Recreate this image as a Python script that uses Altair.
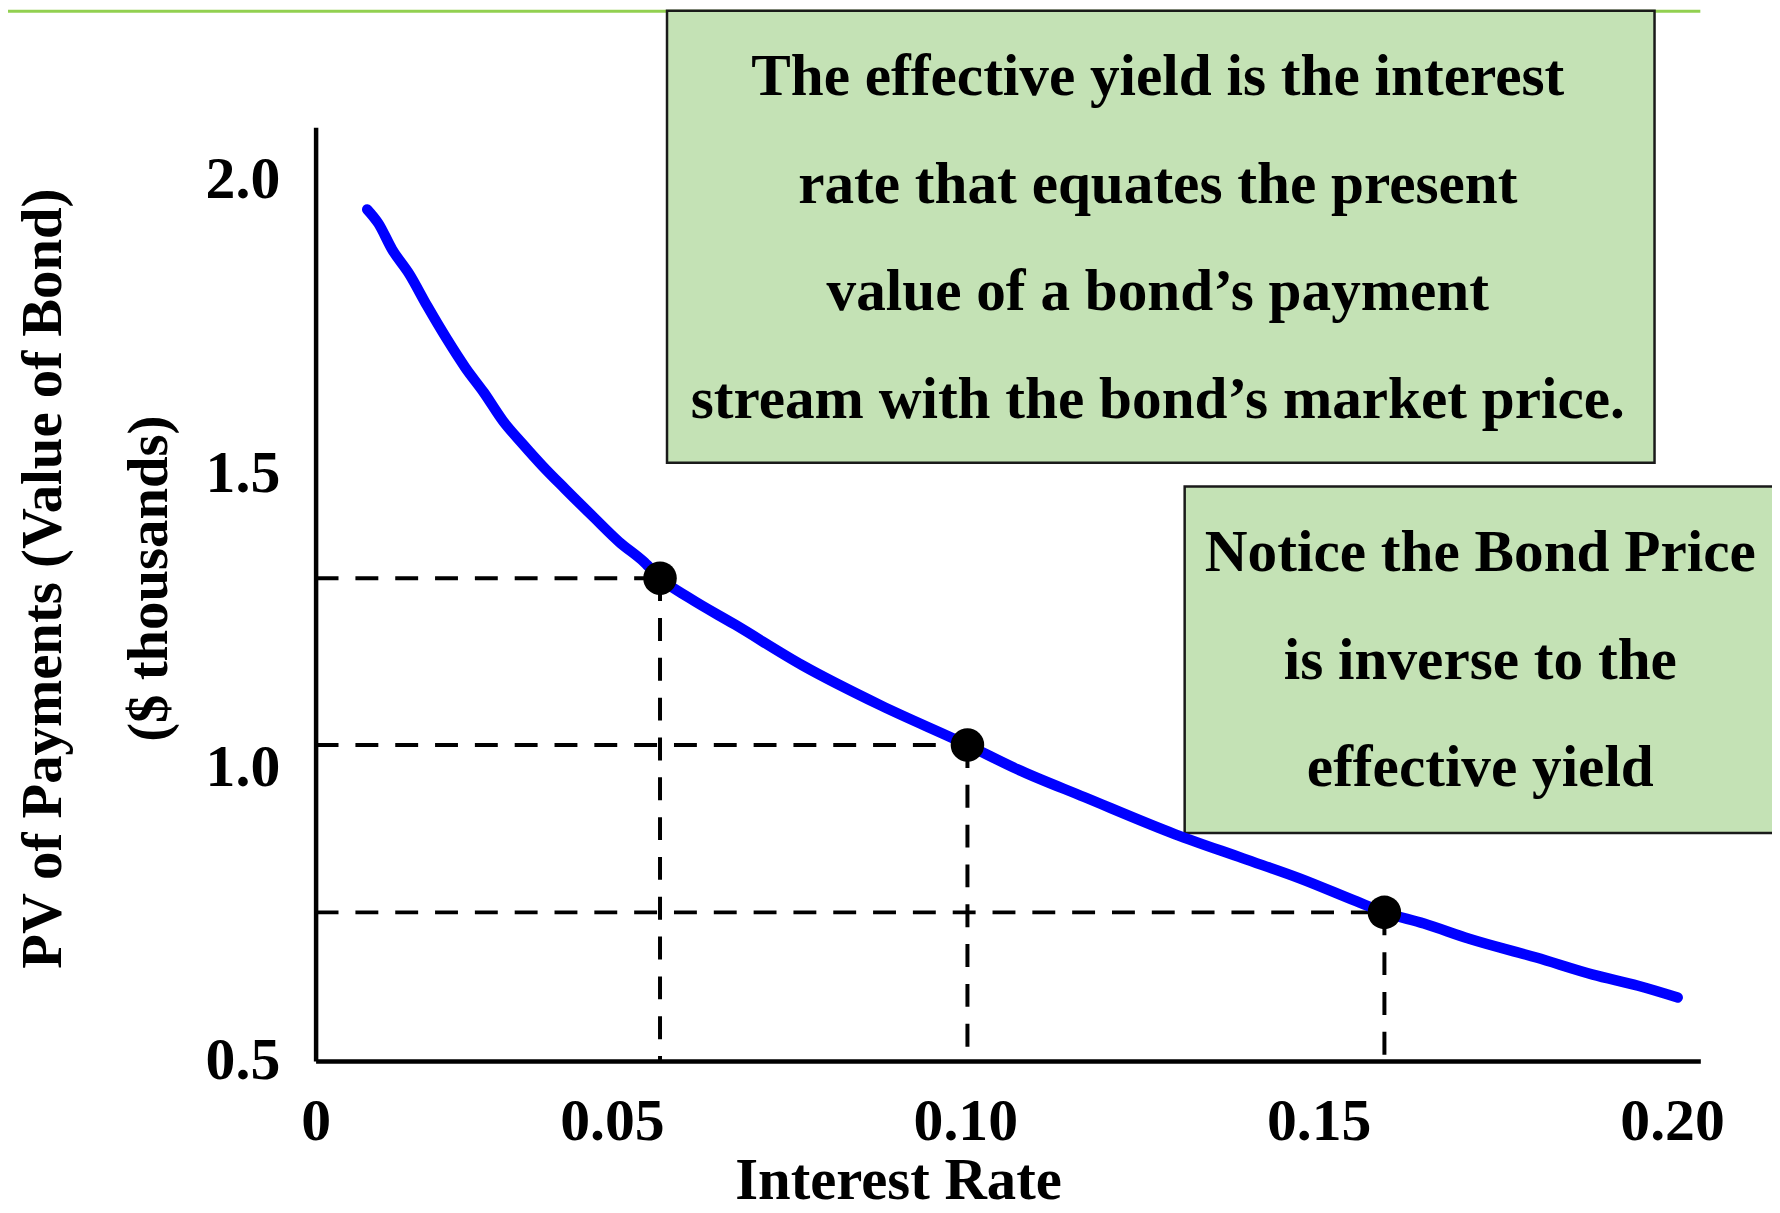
import altair as alt
import pandas as pd

# ---- data ----
rate = [0.0087, 0.0106, 0.0129, 0.0158, 0.0188, 0.0221, 0.0253, 0.0284, 0.0316, 0.0349,
        0.0383, 0.0421, 0.0469, 0.0510, 0.0546, 0.0568, 0.0610, 0.0674, 0.0769, 0.0881,
        0.1003, 0.1073, 0.1169, 0.1297, 0.1393, 0.1473, 0.1553, 0.1593, 0.1649, 0.1713,
        0.1808, 0.1888, 0.1952, 0.2008]
pv = [1.950, 1.926, 1.882, 1.840, 1.786, 1.730, 1.680, 1.638, 1.590, 1.551,
      1.513, 1.474, 1.426, 1.384, 1.349, 1.322, 1.288, 1.243, 1.174, 1.105,
      1.038, 0.997, 0.949, 0.886, 0.845, 0.811, 0.772, 0.753, 0.734, 0.708,
      0.676, 0.647, 0.628, 0.608]

dot_rate = [0.0568, 0.1003, 0.1593]
dot_pv = [1.322, 1.038, 0.753]

x_ticks = [0, 0.05, 0.10, 0.15, 0.20]
y_ticks = [0.5, 1.0, 1.5, 2.0]

x_title = "Interest Rate"
y_title = ["PV of Payments (Value of Bond)", "($ thousands)"]

top_lines = ["The effective yield is the interest",
             "rate that equates the present",
             "value of a bond\u2019s payment",
             "stream with the bond\u2019s market price."]
right_lines = ["Notice the Bond Price",
               "is inverse to the",
               "effective yield"]

X_MIN, Y_MIN = 0.0, 0.5

curve = pd.DataFrame({"rate": rate, "pv": pv})
dots = pd.DataFrame({"rate": dot_rate, "pv": dot_pv})
dots["rate0"] = X_MIN
dots["pv0"] = Y_MIN
one = pd.DataFrame({"k": [0]})

FONT = "Liberation Serif"
GREEN = "#c4e2b5"

xscale = alt.Scale(domain=[0, 0.05, 0.204], range=[0, 297.7, 1391], nice=False, zero=False)
yscale = alt.Scale(domain=[0.5, 2.09], nice=False, zero=False)

xaxis = alt.Axis(values=x_ticks, title=x_title, grid=False, ticks=False, tickSize=0,
                 labelExpr="datum.value == 0 ? '0' : format(datum.value, '.2f')",
                 labelFont=FONT, labelFontWeight="bold", labelFontSize=60, labelColor="black",
                 labelPadding=79, labelBaseline="alphabetic", labelFlush=False, labelOverlap=False,
                 domainColor="black", domainWidth=4.5,
                 titleFont=FONT, titleFontWeight="bold", titleFontSize=59, titleColor="black",
                 titleX=585, titleY=138, titleAlign="center", titleBaseline="alphabetic")
yaxis = alt.Axis(values=y_ticks, title=y_title, grid=False, ticks=False, tickSize=0, format=".1f",
                 labelFont=FONT, labelFontWeight="bold", labelFontSize=60, labelColor="black",
                 labelPadding=36, labelBaseline="middle", labelFlush=False, labelOverlap=False,
                 domainColor="black", domainWidth=4.5,
                 titleFont=FONT, titleFontWeight="bold", titleFontSize=57, titleColor="black",
                 titleAngle=270, titleX=-256, titleY=453, titleAlign="center",
                 titleBaseline="alphabetic", titleLineHeight=106)


def X(field):
    return alt.X(field, type="quantitative", scale=xscale, axis=xaxis)


def Y(field):
    return alt.Y(field, type="quantitative", scale=yscale, axis=yaxis)


top_rule = alt.Chart(one).mark_rule(color="#92d050", strokeWidth=3).encode(
    x=alt.value(-309), x2=alt.value(1391), y=alt.value(-116.5))

box_top = alt.Chart(one).mark_rect(fill=GREEN, stroke="#1a1a1a", strokeWidth=2.5).encode(
    x=alt.value(353), x2=alt.value(1345), y=alt.value(-117), y2=alt.value(337))
box_right = alt.Chart(one).mark_rect(fill=GREEN, stroke="#1a1a1a", strokeWidth=2.5).encode(
    x=alt.value(873), x2=alt.value(1480), y=alt.value(361), y2=alt.value(709))

text_top = alt.Chart(one).mark_text(
    text=top_lines, font=FONT, fontWeight="bold", fontSize=59.5, lineHeight=108,
    align="center", baseline="alphabetic", color="black").encode(
    x=alt.value(846), y=alt.value(-32))
text_right = alt.Chart(one).mark_text(
    text=right_lines, font=FONT, fontWeight="bold", fontSize=59.5, lineHeight=108,
    align="center", baseline="alphabetic", color="black").encode(
    x=alt.value(1170), y=alt.value(446))

h_rules = alt.Chart(dots).mark_rule(color="black", strokeWidth=4, strokeDash=[23, 17]).encode(
    x=X("rate0"), x2="rate", y=Y("pv"))
v_rules = alt.Chart(dots).mark_rule(color="black", strokeWidth=4, strokeDash=[23, 17]).encode(
    x=X("rate"), y=Y("pv"), y2="pv0")

line = alt.Chart(curve).mark_line(color="#0000ff", strokeWidth=10.5, strokeCap="round",
                                  strokeJoin="round", interpolate="monotone").encode(
    x=X("rate"), y=Y("pv"), order="rate:Q")

points = alt.Chart(dots).mark_point(filled=True, shape="circle", size=1134, color="black",
                                    opacity=1).encode(x=X("rate"), y=Y("pv"))

chart = alt.layer(
    top_rule, box_top, box_right, h_rules, v_rules, line, points, text_top, text_right
).properties(
    width=1391, height=938,
    autosize=alt.AutoSizeParams(type="none"),
    padding={"left": 309, "top": 117, "right": 72, "bottom": 150},
    background="white",
).configure_view(stroke=None)

chart.save("out.html", embed_options={"renderer": "svg", "actions": False})
